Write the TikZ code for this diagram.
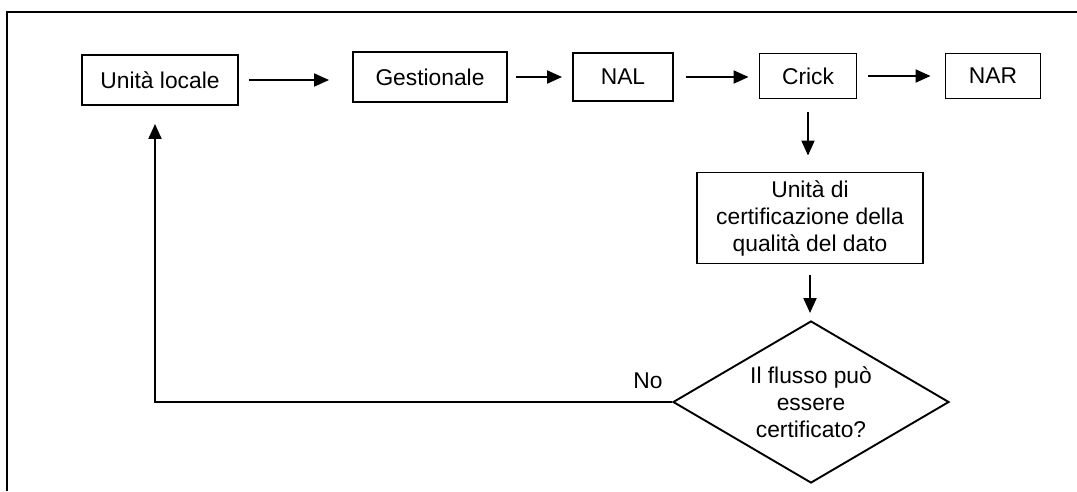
\documentclass[tikz,border=0pt]{standalone}
\usepackage{fontspec}
\setmainfont{Liberation Sans}
\usetikzlibrary{shapes.geometric,arrows.meta,calc}
\begin{document}
\begin{tikzpicture}[x=1pt,y=-1pt,
  every node/.style={font=\fontsize{22.8}{27}\selectfont},
  box/.style={draw,line width=1.9pt,inner sep=0pt,align=center},
  conn/.style={line width=1.9pt,-{Triangle[length=15pt,width=13pt]}},
  frame/.style={line width=2.2pt}]
\useasboundingbox (0,0) rectangle (1077,491);
\draw[frame] (7,491) -- (7,12) -- (1077,12);
\node[box,minimum width=156pt,minimum height=50pt] (ul) at (160,80) {Unità locale};
\node[box,minimum width=154pt,minimum height=50pt] (ge) at (430,77) {Gestionale};
\node[box,minimum width=100pt,minimum height=48pt] (nal) at (623,77) {NAL};
\node[box,minimum width=97pt,minimum height=45pt] (cr) at (808,76) {Crick};
\node[box,minimum width=95pt,minimum height=45pt] (nar) at (993,76) {NAR};
\node[box,minimum width=226pt,minimum height=91pt] (cert) at (810,218) {Unità di\\certificazione della\\qualità del dato};
\node[draw,line width=1.9pt,shape=diamond,aspect=1.7,inner sep=0pt,minimum width=276pt,minimum height=162pt,align=center] (dia) at (811,402) {Il flusso può\\essere\\certificato?};
\node (no) at (648,381) {No};
\coordinate (corner) at (155,400);
\draw[conn,shorten <=10pt,shorten >=23pt] (ul.east) -- (ul.east -| ge.west);
\draw[conn,shorten <=8pt,shorten >=10pt] (ge.east) -- (ge.east -| nal.west);
\draw[conn,shorten <=12pt,shorten >=10pt] (nal.east) -- (nal.east -| cr.west);
\draw[conn,shorten <=11pt,shorten >=14pt] (cr.east) -- (cr.east -| nar.west);
\draw[conn,shorten <=13pt,shorten >=16pt] (cr.south) -- (cr.south |- cert.north);
\draw[conn,shorten <=11pt,shorten >=7pt] (cert.south) -- (cert.south |- dia.north);
\draw[line width=1.9pt] (dia.west) -- (dia.west -| corner) -- (corner);
\draw[conn,shorten >=18pt] (corner) -- (corner |- ul.south);
\end{tikzpicture}
\end{document}
